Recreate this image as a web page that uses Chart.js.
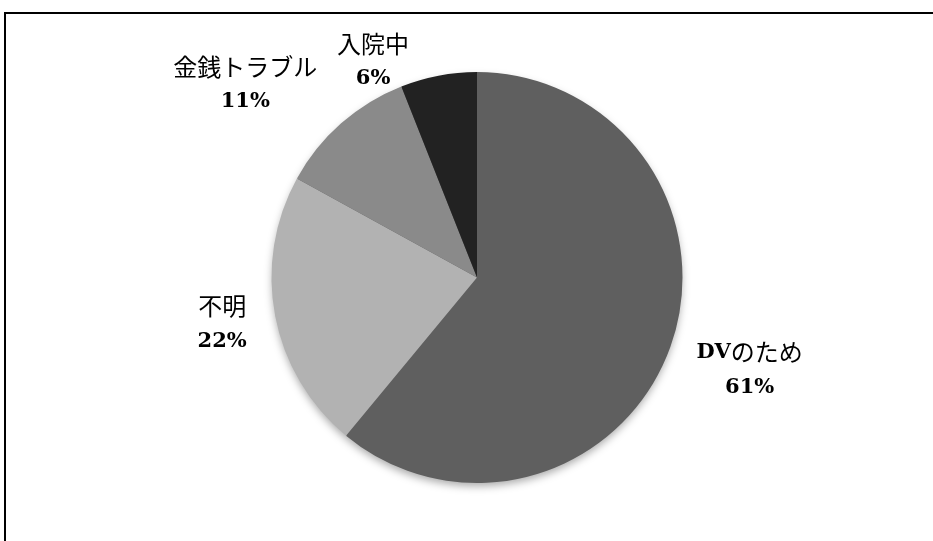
<!DOCTYPE html>
<html>
<head>
<meta charset="utf-8">
<script src="https://cdn.jsdelivr.net/npm/chart.js@4"></script>
<style>
  html, body { margin: 0; padding: 0; background: #fff; }
  #wrap { position: relative; width: 933px; height: 541px; overflow: hidden; }
  #frame { position: absolute; left: 4px; top: 12px; width: 940px; height: 540px;
           border-left: 2px solid #000; border-top: 2px solid #000; }
  canvas { position: absolute; left: 0; top: 0; }
</style>
</head>
<body>
<div id="wrap">
  <div id="frame"></div>
  <canvas id="myChart" width="933" height="541"></canvas>
</div>
<script>
const labels = ['DVのため', '不明', '金銭トラブル', '入院中'];
const values = [61, 22, 11, 6];
const colors = ['#5f5f5f', '#b2b2b2', '#8a8a8a', '#222222'];

// ラベルの置き場所（扇形の中心角からのずれと半径倍率）
const labelShift = [-1.2, 0.6, -8.7, -14.8];
const labelDist = [1.40, 1.26, 1.47, 1.17];

// 英数字は太字セリフ、日本語は細めのゴシック
function drawMixed(ctx, text, cx, cy) {
  const runs = [];
  for (const ch of text) {
    const latin = /[\x00-\x7f]/.test(ch);
    const last = runs[runs.length - 1];
    if (last && last.latin === latin) last.t += ch;
    else runs.push({ t: ch, latin: latin });
  }
  const fontOf = r => r.latin ? 'bold 21px "DejaVu Serif", serif' : '24px "Noto Sans CJK JP"';
  let total = 0;
  runs.forEach(r => { ctx.font = fontOf(r); r.w = ctx.measureText(r.t).width; total += r.w; });
  let x = cx - total / 2;
  ctx.textAlign = 'left';
  ctx.textBaseline = 'middle';
  runs.forEach(r => { ctx.font = fontOf(r); ctx.fillText(r.t, x, cy); x += r.w; });
}

const pieShadow = {
  id: 'pieShadow',
  beforeDatasetsDraw(chart) {
    const arc = chart.getDatasetMeta(0).data[0];
    if (!arc) return;
    const ctx = chart.ctx;
    ctx.save();
    ctx.shadowColor = 'rgba(0,0,0,0.35)';
    ctx.shadowBlur = 9;
    ctx.shadowOffsetY = 4;
    ctx.fillStyle = '#5f5f5f';
    ctx.beginPath();
    ctx.arc(arc.x, arc.y, arc.outerRadius - 1, 0, Math.PI * 2);
    ctx.fill();
    ctx.restore();
  }
};

const pieLabels = {
  id: 'pieLabels',
  afterDatasetsDraw(chart) {
    const ctx = chart.ctx;
    ctx.save();
    ctx.fillStyle = '#000';
    chart.getDatasetMeta(0).data.forEach((arc, i) => {
      const mid = (arc.startAngle + arc.endAngle) / 2 + labelShift[i] * Math.PI / 180;
      const r = arc.outerRadius * labelDist[i];
      const x = arc.x + Math.cos(mid) * r;
      const y = arc.y + Math.sin(mid) * r;
      drawMixed(ctx, labels[i], x, y - 17);
      drawMixed(ctx, values[i] + '%', x, y + 18);
    });
    ctx.restore();
  }
};

const ctx = document.getElementById('myChart').getContext('2d');
new Chart(ctx, {
  type: 'pie',
  data: {
    labels: labels,
    datasets: [{
      data: values,
      backgroundColor: colors,
      borderWidth: 0
    }]
  },
  options: {
    responsive: false,
    animation: false,
    layout: { padding: { left: 21, right: 0, top: 72, bottom: 58 } },
    plugins: {
      legend: { display: false },
      tooltip: { enabled: false }
    }
  },
  plugins: [pieShadow, pieLabels]
});
</script>
</body>
</html>
